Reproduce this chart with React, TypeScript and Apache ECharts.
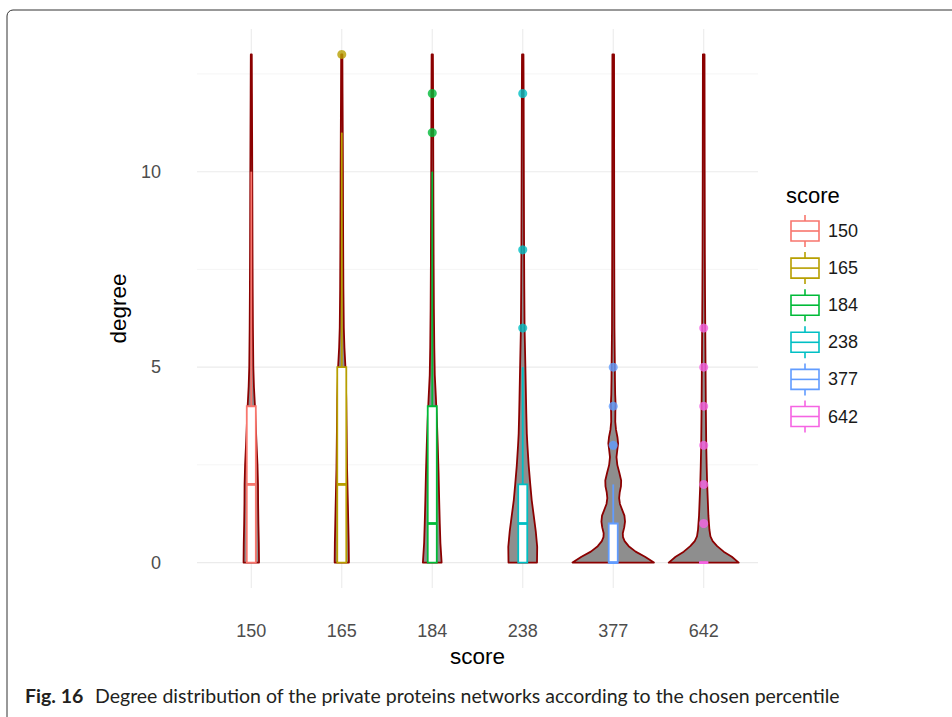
import React, { useEffect, useRef } from "react";
import * as echarts from "echarts";

const categories = ["150", "165", "184", "238", "377", "642"];
const colors = ["#F8766D", "#B79F00", "#00BA38", "#00BFC4", "#619CFF", "#F564E3"];
const yTickValues = [0, 5, 10];
const yMinorValues = [2.5, 7.5, 12.5];

// violin profiles: [degree, relative half width (1 = full half band)]
const violin150 = [[0, 0.19], [0.5, 0.185], [1, 0.175], [1.5, 0.168], [2, 0.165], [2.5, 0.152], [3, 0.13], [3.5, 0.11], [4, 0.09], [4.5, 0.065], [5, 0.05], [6, 0.04], [7, 0.034], [8, 0.03], [9, 0.027], [10, 0.024], [11, 0.02], [12, 0.016], [13, 0.012]];
const violin165 = [[0, 0.175], [0.5, 0.17], [1, 0.16], [1.5, 0.15], [2.4, 0.13], [3.5, 0.118], [4.2, 0.11], [5, 0.09], [5.5, 0.065], [6, 0.05], [7, 0.04], [8, 0.035], [9, 0.031], [10, 0.028], [11, 0.024], [12, 0.019], [13, 0.015]];
const violin184 = [[0, 0.23], [0.5, 0.2], [1, 0.185], [1.6, 0.17], [2.3, 0.155], [3, 0.135], [3.6, 0.115], [4.2, 0.09], [4.8, 0.062], [5.5, 0.05], [6.5, 0.04], [7.6, 0.034], [9, 0.029], [10, 0.026], [11, 0.023], [12, 0.02], [13, 0.016]];
const violin238 = [[0, 0.35], [0.4, 0.355], [0.8, 0.32], [1.2, 0.27], [1.6, 0.22], [2, 0.185], [2.5, 0.145], [3, 0.115], [3.3, 0.1], [3.8, 0.088], [4.2, 0.08], [5, 0.065], [6, 0.045], [7, 0.038], [8, 0.033], [10, 0.027], [12, 0.022], [13, 0.018]];
const violin377 = [[0, 1.0], [0.15, 0.78], [0.28, 0.55], [0.42, 0.38], [0.55, 0.28], [0.65, 0.24], [0.75, 0.235], [0.9, 0.27], [1.05, 0.29], [1.2, 0.275], [1.35, 0.22], [1.5, 0.165], [1.65, 0.145], [1.8, 0.16], [1.95, 0.19], [2.1, 0.195], [2.3, 0.15], [2.5, 0.1], [2.7, 0.08], [2.88, 0.1], [3.05, 0.12], [3.2, 0.105], [3.4, 0.068], [3.6, 0.05], [3.85, 0.052], [4.05, 0.058], [4.3, 0.048], [4.7, 0.042], [5, 0.04], [6, 0.03], [8, 0.025], [13, 0.02]];
const violin642 = [[0, 0.86], [0.15, 0.69], [0.28, 0.49], [0.42, 0.33], [0.55, 0.22], [0.67, 0.165], [0.84, 0.14], [1.2, 0.115], [1.6, 0.1], [2, 0.085], [2.5, 0.072], [3, 0.062], [4, 0.052], [5, 0.045], [6, 0.038], [7, 0.032], [8, 0.028], [10, 0.024], [13, 0.02]];
const violins = [violin150, violin165, violin184, violin238, violin377, violin642];

// box plot statistics
const boxLower = [0, 0, 0, 0, 0, 0];
const boxQ1 = [0, 0, 0, 0, 0, 0];
const boxMedian = [2, 2, 1, 1, 0, 0];
const boxQ3 = [4, 5, 4, 2, 1, 0];
const boxUpper = [10, 11, 10, 5, 2, 0];

// outliers
const outliers150: number[] = [];
const outliers165 = [13];
const outliers184 = [11, 12];
const outliers238 = [6, 8, 12];
const outliers377 = [3, 4, 5];
const outliers642 = [1, 2, 3, 4, 5, 6];
const outliers = [outliers150, outliers165, outliers184, outliers238, outliers377, outliers642];

const FONT = "Liberation Sans";
const CAPTION_FONT = "Lato";

export default function App() {
  const ref = useRef<HTMLDivElement>(null);
  useEffect(() => {
    const chart = echarts.init(ref.current!, null, { renderer: "svg" });
    const X0 = 0.4, X1 = 6.6, Y0 = -0.65, Y1 = 13.65;
    const halfBand = 0.45;
    const boxHalf = 0.05;

    const legendItems: any[] = [];
    legendItems.push({
      type: "text", x: 786, y: 195,
      style: { text: "score", fontSize: 22, fontFamily: FONT, fill: "#000", textVerticalAlign: "middle" },
    });
    categories.forEach((c, i) => {
      const cy = 231 + i * 37.1;
      const cx = 805;
      legendItems.push({ type: "line", shape: { x1: cx, y1: cy - 16, x2: cx, y2: cy + 16 }, style: { stroke: colors[i], lineWidth: 1.6 } });
      legendItems.push({ type: "rect", shape: { x: cx - 14, y: cy - 10, width: 28, height: 20 }, style: { fill: "#fff", stroke: colors[i], lineWidth: 1.6 } });
      legendItems.push({ type: "line", shape: { x1: cx - 14, y1: cy, x2: cx + 14, y2: cy }, style: { stroke: colors[i], lineWidth: 1.6 } });
      legendItems.push({ type: "text", x: 828, y: cy, style: { text: c, fontSize: 18, fontFamily: FONT, fill: "#1a1a1a", textVerticalAlign: "middle" } });
    });

    const scatterData: any[] = [];
    outliers.forEach((arr, i) => arr.forEach((v) => scatterData.push({ value: [i + 1, v], itemStyle: { color: colors[i] } })));

    const option: any = {
      animation: false,
      backgroundColor: "#fff",
      grid: { left: 197, right: 194, top: 29, bottom: 129 },
      xAxis: {
        type: "value", min: X0, max: X1,
        axisLine: { show: false }, axisTick: { show: false }, splitLine: { show: false },
        axisLabel: {
          customValues: categories.map((c, i) => i + 1),
          formatter: (v: number) => categories[Math.round(v) - 1] ?? "",
          margin: 34, fontSize: 18, color: "#4d4d4d", fontFamily: FONT,
        },
        name: "score", nameLocation: "middle", nameGap: 57,
        nameTextStyle: { fontSize: 22.5, color: "#000", fontFamily: FONT },
      },
      yAxis: {
        type: "value", min: Y0, max: Y1,
        axisLine: { show: false }, axisTick: { show: false }, splitLine: { show: false },
        axisLabel: { customValues: yTickValues, margin: 36, fontSize: 18, color: "#4d4d4d", fontFamily: FONT },
        name: "degree", nameLocation: "middle", nameGap: 57,
        nameTextStyle: { fontSize: 22.5, color: "#000", fontFamily: FONT },
      },
      graphic: [
        { type: "rect", shape: { x: 7, y: 10, width: 1000, height: 800, r: 6 }, style: { fill: "none", stroke: "#333", lineWidth: 1 } },
        ...legendItems,
        { type: "text", x: 25, y: 695, style: { text: "Fig. 16", fontSize: 19.5, fontWeight: "bold", fontFamily: CAPTION_FONT, fill: "#231f20", textVerticalAlign: "middle" } },
        { type: "text", x: 95, y: 695, style: { text: "Degree distribution of the private proteins networks according to the chosen percentile", fontSize: 19.5, fontFamily: CAPTION_FONT, fill: "#231f20", textVerticalAlign: "middle" } },
      ],
      series: [
        {
          type: "custom", silent: true, clip: false,
          data: [[1, 0]],
          renderItem: (params: any, api: any) => {
            const children: any[] = [];
            yMinorValues.forEach((v) => {
              const a = api.coord([X0, v]), b = api.coord([X1, v]);
              children.push({ type: "line", shape: { x1: a[0], y1: a[1], x2: b[0], y2: b[1] }, style: { stroke: "#f3f3f3", lineWidth: 0.8 } });
            });
            yTickValues.forEach((v) => {
              const a = api.coord([X0, v]), b = api.coord([X1, v]);
              children.push({ type: "line", shape: { x1: a[0], y1: a[1], x2: b[0], y2: b[1] }, style: { stroke: "#ebebeb", lineWidth: 1.1 } });
            });
            categories.forEach((c, i) => {
              const a = api.coord([i + 1, Y0]), b = api.coord([i + 1, Y1]);
              children.push({ type: "line", shape: { x1: a[0], y1: a[1], x2: b[0], y2: b[1] }, style: { stroke: "#ebebeb", lineWidth: 1.1 } });
            });
            return { type: "group", children };
          },
        },
        {
          type: "custom", silent: true, clip: false,
          data: categories.map((c, i) => [i + 1, 0, i]),
          renderItem: (params: any, api: any) => {
            const i = api.value(2) as number;
            const cx = i + 1;
            const prof = violins[i];
            const right = prof.map(([y, w]) => api.coord([cx + w * halfBand, y]));
            const left = prof.slice().reverse().map(([y, w]) => api.coord([cx - w * halfBand, y]));
            return {
              type: "polygon",
              shape: { points: [...right, ...left] },
              style: { fill: "#8e8e8e", stroke: "#8b0000", lineWidth: 1.8, lineJoin: "round" },
            };
          },
        },
        {
          type: "custom", silent: true, clip: false,
          data: categories.map((c, i) => [i + 1, boxMedian[i], i]),
          renderItem: (params: any, api: any) => {
            const i = api.value(2) as number;
            const cx = i + 1;
            const col = colors[i];
            const tl = api.coord([cx - boxHalf, boxQ3[i]]);
            const br = api.coord([cx + boxHalf, boxQ1[i]]);
            const wTop = api.coord([cx, boxUpper[i]]);
            const wBot = api.coord([cx, boxLower[i]]);
            const mL = api.coord([cx - boxHalf, boxMedian[i]]);
            const mR = api.coord([cx + boxHalf, boxMedian[i]]);
            return {
              type: "group",
              children: [
                { type: "line", shape: { x1: wTop[0], y1: wTop[1], x2: wTop[0], y2: tl[1] }, style: { stroke: col, lineWidth: 1.8 } },
                { type: "line", shape: { x1: wBot[0], y1: br[1], x2: wBot[0], y2: wBot[1] }, style: { stroke: col, lineWidth: 1.8 } },
                { type: "rect", shape: { x: tl[0], y: tl[1], width: br[0] - tl[0], height: br[1] - tl[1] }, style: { fill: "#fff", stroke: col, lineWidth: 1.8 } },
                { type: "line", shape: { x1: mL[0], y1: mL[1], x2: mR[0], y2: mR[1] }, style: { stroke: col, lineWidth: 2.8 } },
              ],
            };
          },
        },
        {
          type: "scatter", silent: true, symbolSize: 9,
          data: scatterData,
        },
      ],
    };
    chart.setOption(option);
    return () => chart.dispose();
  }, []);
  return <div ref={ref} style={{ position: "fixed", left: 0, top: 0, width: 952, height: 717, background: "#fff" }} />;
}
